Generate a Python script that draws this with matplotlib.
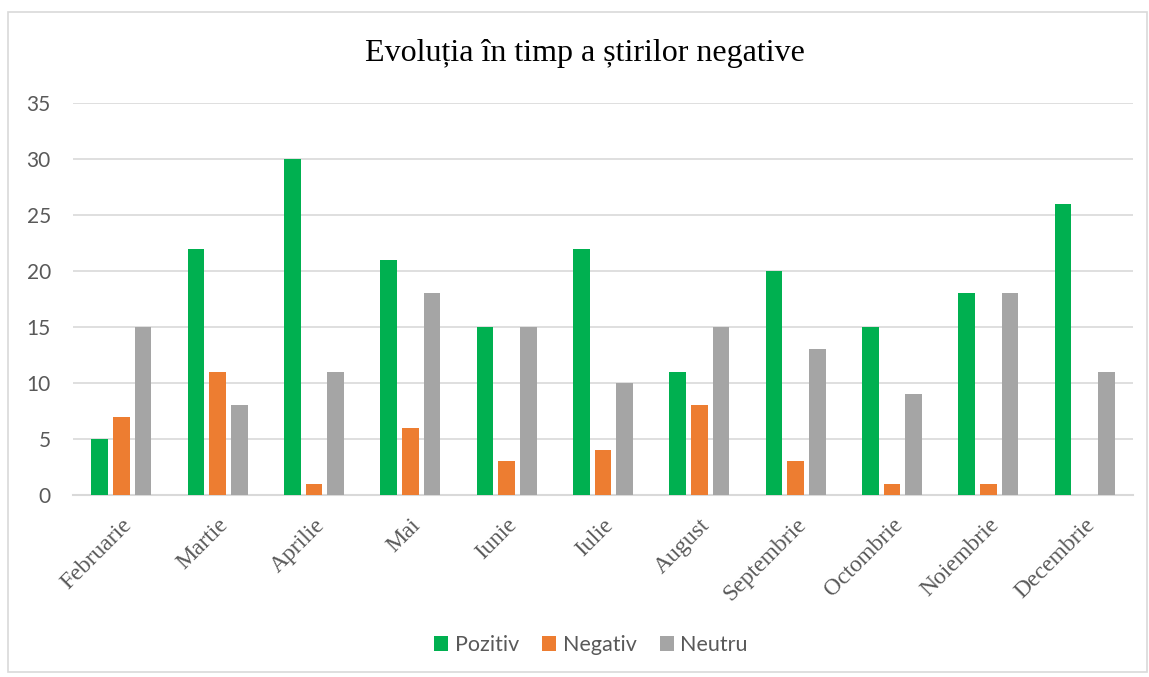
import matplotlib
matplotlib.use("Agg")
import matplotlib.pyplot as plt
import numpy as np
from matplotlib.patches import Rectangle

months = ["Februarie", "Martie", "Aprilie", "Mai", "Iunie", "Iulie", "August",
          "Septembrie", "Octombrie", "Noiembrie", "Decembrie"]
pozitiv = [5, 22, 30, 21, 15, 22, 11, 20, 15, 18, 26]
negativ = [7, 11, 1, 6, 3, 4, 8, 3, 1, 1, 0]
neutru = [15, 8, 11, 18, 15, 10, 15, 13, 9, 18, 11]
series_names = ["Pozitiv", "Negativ", "Neutru"]
colors = ["#00B050", "#ED7D31", "#A5A5A5"]
yticks = [0, 5, 10, 15, 20, 25, 30, 35]

fig = plt.figure(figsize=(11.49, 6.77), dpi=100)
ax = fig.add_axes([73/1149, 1-495/677, (1133-73)/1149, (495-103)/677])

x = np.arange(len(months))
w = 0.173
off = 0.225
for i, (vals, name, c) in enumerate(zip([pozitiv, negativ, neutru], series_names, colors)):
    ax.bar(x + (i-1)*off, vals, width=w, color=c, label=name, zorder=3)

ax.set_xlim(-0.5, len(months)-0.5)
ax.set_ylim(0, 35)
ax.set_yticks(yticks)
ax.set_yticklabels([str(t) for t in yticks], fontname="Lato", fontsize=15, color="#595959")
ax.yaxis.grid(True, color="#D9D9D9", linewidth=1.2, zorder=0)
ax.tick_params(axis="both", length=0)
ax.tick_params(axis="y", pad=16)
for s in ["top", "right", "left"]:
    ax.spines[s].set_visible(False)
ax.spines["bottom"].set_color("#D9D9D9")
ax.spines["bottom"].set_linewidth(1.5)

ax.set_xticks(x)
ax.set_xticklabels(months, rotation=45, ha="right", va="top", rotation_mode="anchor",
                   fontname="Liberation Serif", fontsize=17, color="#595959")
ax.tick_params(axis="x", pad=14)

fig.text(585/1149, 1-53/677, "Evoluția în timp a știrilor negative", ha="center", va="center",
         fontname="Liberation Serif", fontsize=23, color="#000000")

leg = fig.legend(loc="center", bbox_to_anchor=(591/1149, 1-645/677), ncol=3, frameon=False,
                 prop={"family": "Lato", "size": 15.5}, handlelength=0.65, handleheight=0.65,
                 columnspacing=1.07, handletextpad=0.3)
for t in leg.get_texts():
    t.set_color("#595959")

fig.patches.append(Rectangle((8/1149, 1-672/677), (1147-8)/1149, (672-12)/677,
                             transform=fig.transFigure, fill=False, edgecolor="#D9D9D9",
                             linewidth=1.2))

fig.savefig("out.png", dpi=100)
